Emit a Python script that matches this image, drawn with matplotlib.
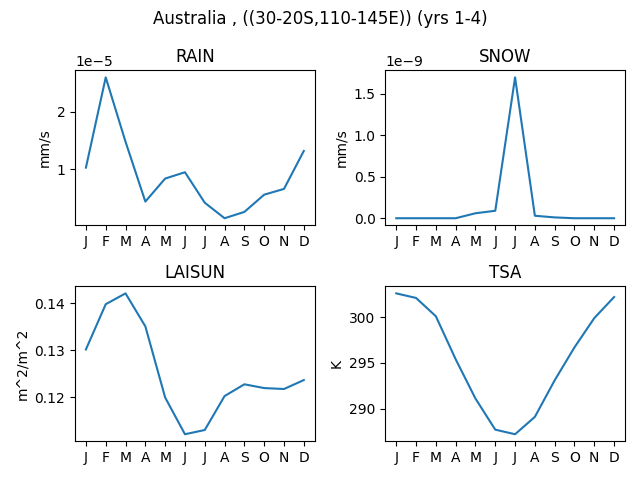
import matplotlib
matplotlib.use("Agg")
import matplotlib.pyplot as plt

months = ['J','F','M','A','M','J','J','A','S','O','N','D']
rain = [1.03e-5,2.6e-5,1.48e-5,0.44e-5,0.84e-5,0.95e-5,0.42e-5,0.15e-5,0.26e-5,0.56e-5,0.66e-5,1.32e-5]
snow = [0,0,0,0,0.06e-9,0.09e-9,1.7e-9,0.03e-9,0.01e-9,0,0,0]
laisun = [0.1302,0.1398,0.1421,0.1351,0.1200,0.1122,0.1131,0.1203,0.1228,0.1220,0.1218,0.1237]
tsa = [302.6,302.1,300.1,295.4,291.1,287.7,287.2,289.1,293.1,296.7,299.9,302.2]

fig, axs = plt.subplots(2, 2, figsize=(6.4, 4.8), dpi=100)
data = [(rain,'RAIN','mm/s'),(snow,'SNOW','mm/s'),(laisun,'LAISUN','m^2/m^2'),(tsa,'TSA','K')]
for ax,(v,t,u) in zip(axs.flat,data):
    ax.plot(range(12), v)
    ax.set_xticks(range(12))
    ax.set_xticklabels(months)
    ax.set_title(t)
    ax.set_ylabel(u)
fig.suptitle('Australia , ((30-20S,110-145E)) (yrs 1-4)')
fig.tight_layout()
fig.savefig('out.png')
